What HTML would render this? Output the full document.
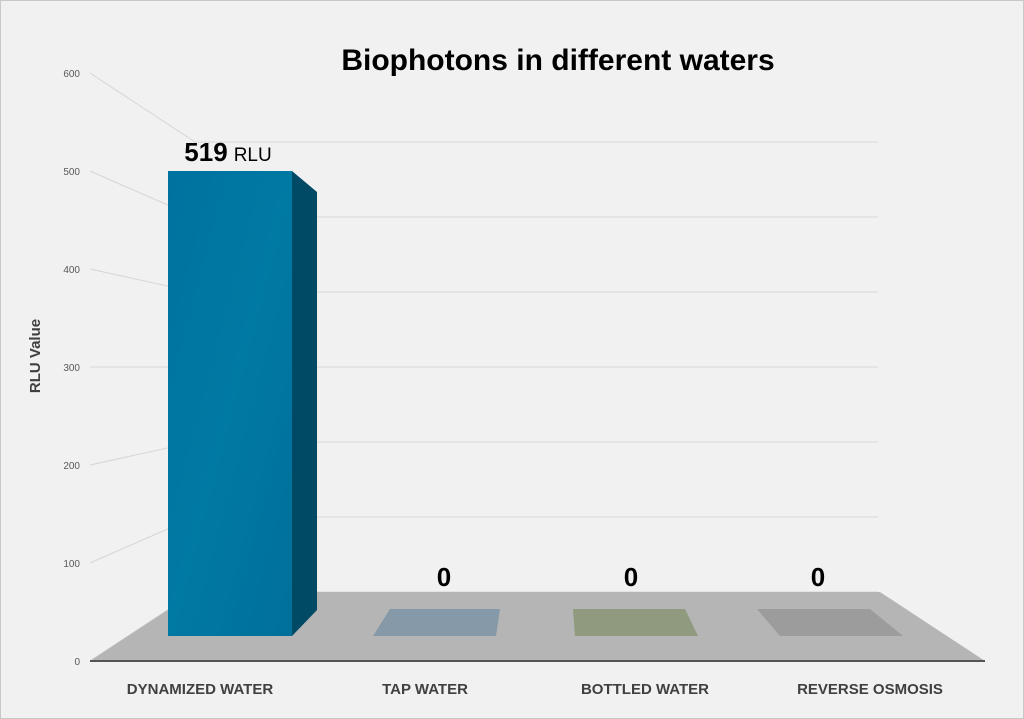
<!DOCTYPE html>
<html><head><meta charset="utf-8"><style>
html,body{margin:0;padding:0;background:#f1f1f1;}
svg{display:block;font-family:"Liberation Sans",sans-serif;}
</style></head><body>
<svg width="1024" height="719" viewBox="0 0 1024 719">
<rect x="0.5" y="0.5" width="1023" height="718" fill="#f1f1f1" stroke="#c8c8c8"/>
<text x="558" y="70" text-anchor="middle" font-size="30" font-weight="bold" fill="#000">Biophotons in different waters</text>
<text transform="translate(40,356) rotate(-90)" text-anchor="middle" font-size="15" font-weight="bold" fill="#404040">RLU Value</text>
<g id="grid"></g>
<polygon points="90,661 195,592 880,592 985,661" fill="#b5b5b5"/>
<line x1="90" y1="661" x2="985" y2="661" stroke="#555" stroke-width="2"/>
<g id="bars"></g>
</svg>
<script>
const categories = ["DYNAMIZED WATER","TAP WATER","BOTTLED WATER","REVERSE OSMOSIS"];
const values = [519,0,0,0];
const valueLabels = ["519","0","0","0"];
const yTicks = [0,100,200,300,400,500,600];

const NS="http://www.w3.org/2000/svg";
function mk(t,a,p){const e=document.createElementNS(NS,t);for(const k in a)e.setAttribute(k,a[k]);p.appendChild(e);return e;}
const grid=document.getElementById('grid'), bars=document.getElementById('bars');
// axis functions
const yFront=v=>661-v*98/100;
const yBack=v=>592-v*75/100;
const barScale=465/519;
const yBar=v=>636-v*barScale;

yTicks.forEach(t=>{
  const l=mk('polyline',{points:`90,${yFront(t)} 195,${yBack(t)} 878,${yBack(t)}`,fill:'none',stroke:'#d6d6d6','stroke-width':1},grid);
  
  
  const tx=mk('text',{x:80,y:yFront(t)+4,'text-anchor':'end','font-size':10,fill:'#595959'},grid);
  tx.textContent=t;
  
  
});

// layout (not data)
const frontL=[168,373,575,780], frontR=[292,496,698,903];
const backL=[185,390,573,757], backR=[317,500,685,870];
const centers=[200,425,645,870];
const zeroColors=["#0077a0","#8599a8","#8f9a7e","#9c9c9c"];

const defs=mk('defs',{},document.querySelector('svg'));
const g=mk('linearGradient',{id:'bg',x1:0,y1:0,x2:1,y2:1},defs);
mk('stop',{offset:'0','stop-color':'#0072a0'},g);
mk('stop',{offset:'0.5','stop-color':'#0079a3'},g);
mk('stop',{offset:'1','stop-color':'#00709a'},g);

values.forEach((v,i)=>{
  const top=yBar(v);
  if(v>0){
    const s=mk('polygon',{points:`${frontR[i]},${top} ${frontR[i]+25},${top+21} ${frontR[i]+25},610 ${frontR[i]},636`,fill:'#004a66'},bars);
    
    
    const f=mk('rect',{x:frontL[i],y:top,width:frontR[i]-frontL[i],height:636-top,fill:'url(#bg)'},bars);
    
    
    const t=mk('text',{x:centers[i]+28,y:top-10,'text-anchor':'middle',fill:'#000'},bars);
    const a=mk('tspan',{'font-size':26,'font-weight':'bold'},t);a.textContent=valueLabels[i];
    const b=mk('tspan',{'font-size':19,dx:6},t);b.textContent='RLU';
    
    
  } else {
    const p=mk('polygon',{points:`${frontL[i]},636 ${frontR[i]},636 ${backR[i]},${609-(636-top)} ${backL[i]},${609-(636-top)}`,fill:zeroColors[i]},bars);
    
    
    const t=mk('text',{x:[0,444,631,818][i],y:586,'text-anchor':'middle','font-size':26,'font-weight':'bold',fill:'#000'},bars);
    t.textContent=valueLabels[i];
    
    
  }
  const c=mk('text',{x:centers[i],y:694,'text-anchor':'middle','font-size':15,'font-weight':'bold',fill:'#404040'},bars);
  c.textContent=categories[i];
  
  
});
</script>
</body></html>
